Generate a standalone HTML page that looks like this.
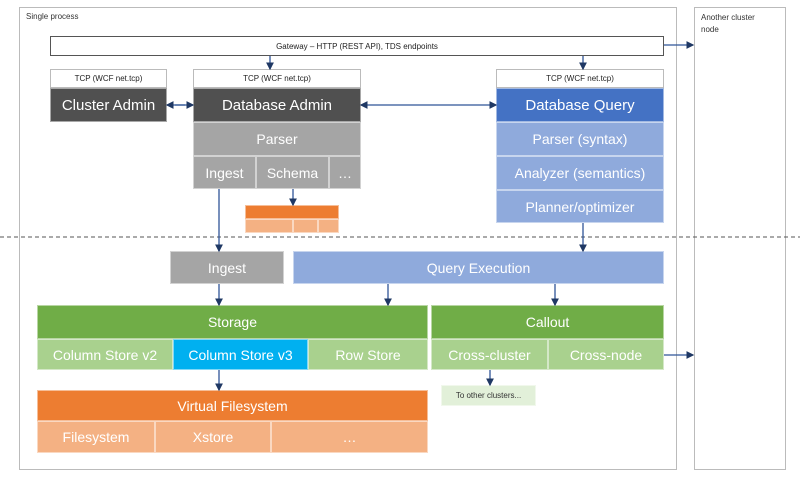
<!DOCTYPE html>
<html><head><style>
body{margin:0;background:#fff;font-family:"Liberation Sans",sans-serif}
.b{position:absolute;box-sizing:border-box;display:flex;align-items:center;justify-content:center;color:#fff;font-size:14px;border:1px solid rgba(255,255,255,.5)}
.h{color:#222;font-size:8px;background:#fff;border:1px solid #bbb}
.l{position:absolute;color:#333;font-size:8px}
</style></head><body>
<div style="position:absolute;left:19px;top:7px;width:658px;height:463px;border:1px solid #bbb;box-sizing:border-box"></div>
<div style="position:absolute;left:694px;top:7px;width:92px;height:463px;border:1px solid #bbb;box-sizing:border-box"></div>
<div class="l" style="left:26px;top:12px">Single process</div>
<div class="l" style="left:701px;top:12px;line-height:12px">Another cluster<br>node</div>
<div class="b h" style="left:50px;top:36px;width:614px;height:20px;border:1px solid #555">Gateway – HTTP (REST API), TDS endpoints</div>

<div class="b h" style="left:50px;top:69px;width:117px;height:19px">TCP (WCF net.tcp)</div>
<div class="b" style="left:50px;top:88px;width:117px;height:34px;background:#505050;font-size:15px">Cluster Admin</div>

<div class="b h" style="left:193px;top:69px;width:168px;height:19px">TCP (WCF net.tcp)</div>
<div class="b" style="left:193px;top:88px;width:168px;height:34px;background:#505050;font-size:15px">Database Admin</div>
<div class="b" style="left:193px;top:122px;width:168px;height:34px;background:#a5a5a5">Parser</div>
<div class="b" style="left:193px;top:156px;width:63px;height:33px;background:#a5a5a5">Ingest</div>
<div class="b" style="left:256px;top:156px;width:73px;height:33px;background:#a5a5a5">Schema</div>
<div class="b" style="left:329px;top:156px;width:32px;height:33px;background:#a5a5a5">…</div>

<div class="b" style="left:245px;top:205px;width:94px;height:14px;background:#ed7d31"></div>
<div class="b" style="left:245px;top:219px;width:48px;height:14px;background:#f4b183"></div>
<div class="b" style="left:293px;top:219px;width:25px;height:14px;background:#f4b183"></div>
<div class="b" style="left:318px;top:219px;width:21px;height:14px;background:#f4b183"></div>

<div class="b h" style="left:496px;top:69px;width:168px;height:19px">TCP (WCF net.tcp)</div>
<div class="b" style="left:496px;top:88px;width:168px;height:34px;background:#4472c4;font-size:15px">Database Query</div>
<div class="b" style="left:496px;top:122px;width:168px;height:34px;background:#8faadc">Parser (syntax)</div>
<div class="b" style="left:496px;top:156px;width:168px;height:34px;background:#8faadc">Analyzer (semantics)</div>
<div class="b" style="left:496px;top:190px;width:168px;height:33px;background:#8faadc">Planner/optimizer</div>

<div class="b" style="left:170px;top:251px;width:114px;height:33px;background:#a5a5a5">Ingest</div>
<div class="b" style="left:293px;top:251px;width:371px;height:33px;background:#8faadc">Query Execution</div>

<div class="b" style="left:37px;top:305px;width:391px;height:34px;background:#70ad47">Storage</div>
<div class="b" style="left:37px;top:339px;width:136px;height:31px;background:#a9d18e">Column Store v2</div>
<div class="b" style="left:173px;top:339px;width:135px;height:31px;background:#00b0f0">Column Store v3</div>
<div class="b" style="left:308px;top:339px;width:120px;height:31px;background:#a9d18e">Row Store</div>

<div class="b" style="left:431px;top:305px;width:233px;height:34px;background:#70ad47">Callout</div>
<div class="b" style="left:431px;top:339px;width:117px;height:31px;background:#a9d18e">Cross-cluster</div>
<div class="b" style="left:548px;top:339px;width:116px;height:31px;background:#a9d18e">Cross-node</div>
<div class="b" style="left:441px;top:385px;width:95px;height:21px;background:#e2f0d9;color:#333;font-size:8px">To other clusters...</div>

<div class="b" style="left:37px;top:390px;width:391px;height:31px;background:#ed7d31">Virtual Filesystem</div>
<div class="b" style="left:37px;top:421px;width:118px;height:32px;background:#f4b183">Filesystem</div>
<div class="b" style="left:155px;top:421px;width:116px;height:32px;background:#f4b183">Xstore</div>
<div class="b" style="left:271px;top:421px;width:157px;height:32px;background:#f4b183">…</div>

<svg width="800" height="477" style="position:absolute;left:0;top:0">
<defs><marker id="a" markerWidth="6" markerHeight="6" refX="5" refY="3" orient="auto"><path d="M0,0L6,3L0,6z" fill="#1f3864"/></marker></defs>
<line x1="0" y1="237" x2="800" y2="237" stroke="#555" stroke-dasharray="4,3"/>
<g stroke="#2f5597" stroke-width="1.3" marker-end="url(#a)">
<line x1="270" y1="56" x2="270" y2="69"/>
<line x1="583" y1="56" x2="583" y2="69"/>
<line x1="664" y1="45" x2="693" y2="45"/>
<line x1="175" y1="105" x2="193" y2="105"/>
<line x1="185" y1="105" x2="167" y2="105"/>
<line x1="420" y1="105" x2="361" y2="105"/>
<line x1="420" y1="105" x2="496" y2="105"/>
<line x1="219" y1="189" x2="219" y2="251"/>
<line x1="293" y1="189" x2="293" y2="205"/>
<line x1="583" y1="223" x2="583" y2="251"/>
<line x1="219" y1="284" x2="219" y2="305"/>
<line x1="388" y1="284" x2="388" y2="305"/>
<line x1="555" y1="284" x2="555" y2="305"/>
<line x1="664" y1="355" x2="693" y2="355"/>
<line x1="219" y1="370" x2="219" y2="390"/>
<line x1="490" y1="370" x2="490" y2="385"/>
</g>
</svg>
</body></html>
